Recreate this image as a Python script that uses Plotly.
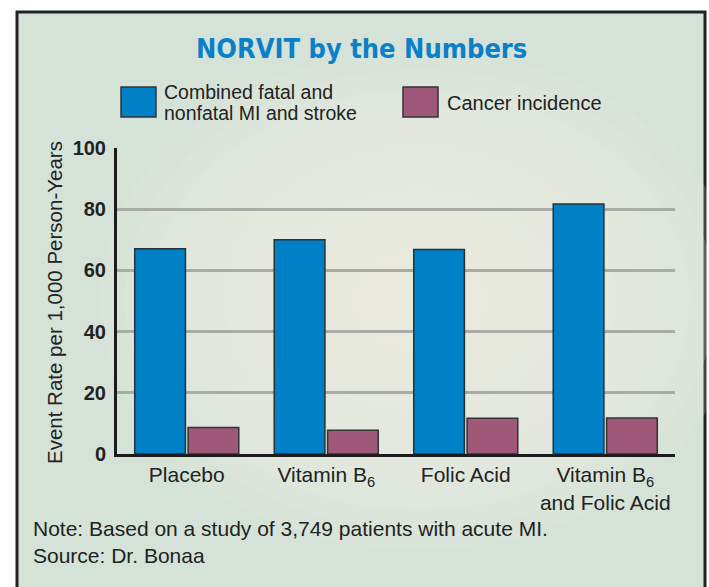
import plotly.graph_objects as go

categories = ["Placebo", "Vitamin B<sub>6</sub>", "Folic Acid", "Vitamin B<sub>6</sub><br>and Folic Acid"]
mi_stroke = [67.1, 70.0, 66.8, 81.7]
cancer = [8.7, 7.8, 11.7, 11.8]
series_names = ["Combined fatal and<br>nonfatal MI and stroke", "Cancer incidence"]
y_ticks = [0, 20, 40, 60, 80, 100]

W, H = 709, 587
L, R, T, B = 117, 675, 148, 454  # plot area in page pixels

def px(x):
    return (x - L) / (R - L)

def py(y):
    return (B - y) / (B - T)

BLUE = "#0080c6"
PURPLE = "#a05878"
BG = "#d5e2d8"
CREAM = "#efebe0"
FONT = "Liberation Sans, Arial, sans-serif"
TXT = "#222222"

fig = go.Figure()
fig.add_trace(go.Bar(x=categories, y=mi_stroke, name=series_names[0],
                     marker=dict(color=BLUE, line=dict(color="#263238", width=1.5)), showlegend=False))
fig.add_trace(go.Bar(x=categories, y=cancer, name=series_names[1],
                     marker=dict(color=PURPLE, line=dict(color="#333333", width=1.5)), showlegend=False))

shapes = []
shapes.append(dict(type="rect", xref="paper", yref="paper", x0=px(17), x1=px(705), y0=py(12), y1=py(620),
                   fillcolor=BG, line=dict(color="#222222", width=3), layer="below"))
cx, cy = 420, 300
for i in range(12):
    rx = 320 - i * 25
    ry = rx * 0.78
    shapes.append(dict(type="circle", xref="paper", yref="paper", x0=px(cx - rx), x1=px(cx + rx),
                       y0=py(cy + ry), y1=py(cy - ry), fillcolor=CREAM, opacity=0.17,
                       line=dict(width=0), layer="below"))
shapes.append(dict(type="rect", xref="paper", yref="paper", x0=px(121), x1=px(156), y0=py(117), y1=py(87),
                   fillcolor=BLUE, line=dict(color="#333333", width=1.5)))
shapes.append(dict(type="rect", xref="paper", yref="paper", x0=px(403), x1=px(438), y0=py(117), y1=py(87),
                   fillcolor=PURPLE, line=dict(color="#333333", width=1.5)))

legend_lines = series_names[0].split("<br>")
annotations = [
    dict(text="<b>NORVIT by the Numbers</b>", xref="paper", yref="paper", x=px(361), y=py(48),
         xanchor="center", yanchor="middle", showarrow=False,
         font=dict(family="Liberation Sans Narrow, DejaVu Sans Condensed, Arial Narrow, sans-serif", size=27, color="#0a80c8")),
    dict(text=legend_lines[0], xref="paper", yref="paper", x=px(162), y=py(91.5), xanchor="left", yanchor="middle",
         align="left", showarrow=False, font=dict(family=FONT, size=19.5, color=TXT)),
    dict(text=legend_lines[1], xref="paper", yref="paper", x=px(162), y=py(113.5), xanchor="left", yanchor="middle",
         align="left", showarrow=False, font=dict(family=FONT, size=19.5, color=TXT)),
    dict(text=series_names[1], xref="paper", yref="paper", x=px(445), y=py(103), xanchor="left", yanchor="middle",
         align="left", showarrow=False, font=dict(family=FONT, size=20, color=TXT)),
    dict(text="Event Rate per 1,000 Person-Years", xref="paper", yref="paper", x=px(54), y=py(303),
         xanchor="center", yanchor="middle", textangle=-90, showarrow=False, font=dict(family=FONT, size=20.5, color=TXT)),
    dict(text="Note: Based on a study of 3,749 patients with acute MI.<br>Source: Dr. Bonaa", xref="paper", yref="paper",
         x=px(31), y=py(542), xanchor="left", yanchor="middle", align="left",
         showarrow=False, font=dict(family=FONT, size=21, color=TXT)),
]

fig.update_layout(
    width=W, height=H,
    margin=dict(l=L, r=W - R, t=T, b=H - B, pad=0),
    paper_bgcolor="white", plot_bgcolor="rgba(0,0,0,0)",
    barmode="group", bargap=0.235, bargroupgap=0.05,
    shapes=shapes, annotations=annotations,
    font=dict(family=FONT, color=TXT),
    showlegend=False,
)
fig.update_xaxes(showline=True, linecolor="#1c1c1c", linewidth=3, ticks="", showgrid=False,
                 tickfont=dict(family=FONT, size=21, color=TXT), ticklabelstandoff=0)
fig.update_yaxes(range=[0, 100], tickvals=y_ticks, showline=True, linecolor="#1c1c1c", linewidth=3,
                 showgrid=True, gridcolor="#a9aba7", gridwidth=3, zeroline=False, ticks="",
                 tickfont=dict(family=FONT, size=20, color=TXT, weight="bold"), ticklabelstandoff=4)

fig.write_html("out.html", config={"displayModeBar": False},
               post_script="document.body.style.margin='0px';document.body.style.overflow='hidden';")
